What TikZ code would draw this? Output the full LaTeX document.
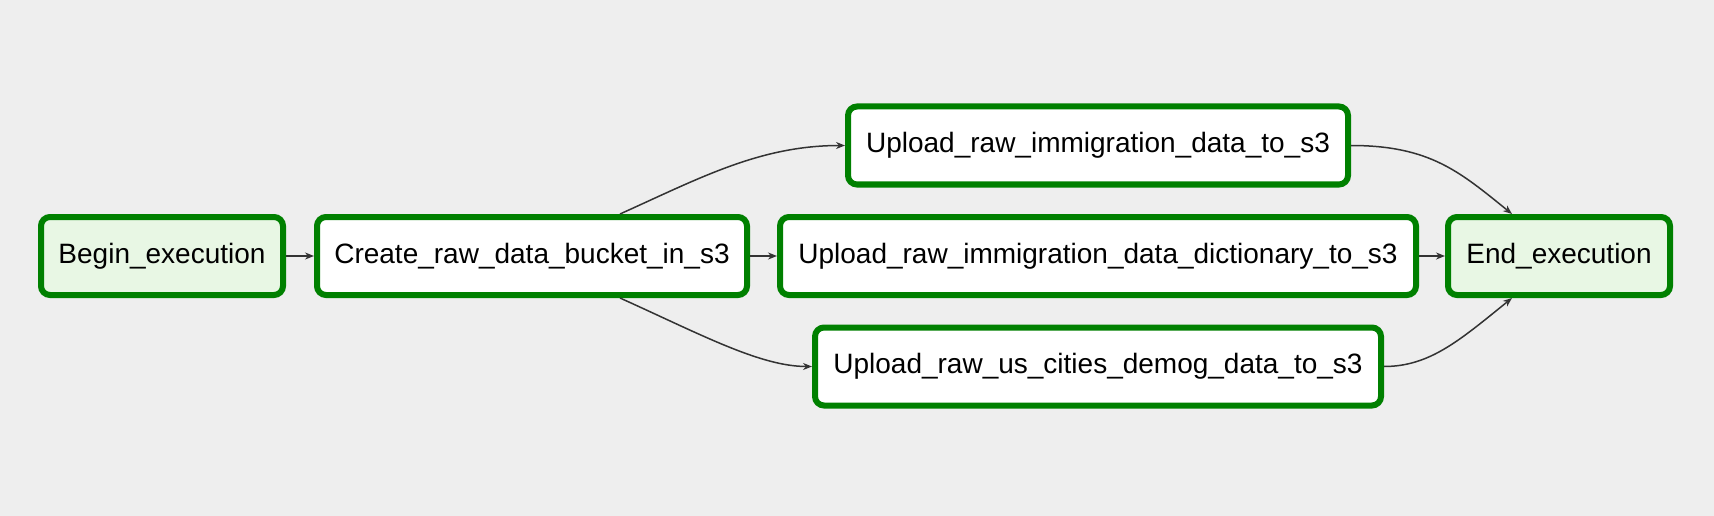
\documentclass[tikz,border=0pt]{standalone}
\usepackage{fontspec}
\setmainfont{Liberation Sans}
\usetikzlibrary{arrows.meta}
\definecolor{bg}{HTML}{EEEEEE}
\definecolor{okgreen}{HTML}{008000}
\definecolor{dummyfill}{HTML}{E8F7E4}
\definecolor{edgegray}{HTML}{333333}
\tikzset{
  task/.style={draw=okgreen, line width=6pt, rounded corners=9pt, fill=white,
    minimum height=78pt, inner sep=0pt,
    font=\fontsize{28}{33}\selectfont},
  dummy/.style={task, fill=dummyfill},
  edge/.style={draw=edgegray, line width=1.5pt, -{Stealth[length=9pt,width=7pt]}}
}
\begin{document}
\begin{tikzpicture}[x=1pt,y=-1pt]
\fill[bg] (0,0) rectangle (1714,516);
\useasboundingbox (0,0) rectangle (1714,516);
\node[dummy, minimum width=242pt] (begin) at (162,256) {Begin\_execution};
\node[task, minimum width=430pt] (create) at (532,256) {Create\_raw\_data\_bucket\_in\_s3};
\node[task, minimum width=500pt] (up1) at (1098,145.5) {Upload\_raw\_immigration\_data\_to\_s3};
\node[task, minimum width=636pt] (up2) at (1098,256) {Upload\_raw\_immigration\_data\_dictionary\_to\_s3};
\node[task, minimum width=566pt] (up3) at (1098,366.5) {Upload\_raw\_us\_cities\_demog\_data\_to\_s3};
\node[dummy, minimum width=222pt] (end) at (1559,256) {End\_execution};
\draw[edge] (begin.east) -- (create.west);
\draw[edge] (create.east) -- (up2.west);
\draw[edge] (up2.east) -- (end.west);
\draw[edge] ([xshift=88pt]create.north) .. controls (700,178) and (760,145.5) .. (up1.west);
\draw[edge] ([xshift=88pt]create.south) .. controls (700,334) and (760,366.5) .. (up3.west);
\draw[edge] (up1.east) .. controls (1430,145.5) and (1460,172) .. ([xshift=-47pt]end.north);
\draw[edge] (up3.east) .. controls (1430,366.5) and (1460,340) .. ([xshift=-47pt]end.south);
\end{tikzpicture}
\end{document}
